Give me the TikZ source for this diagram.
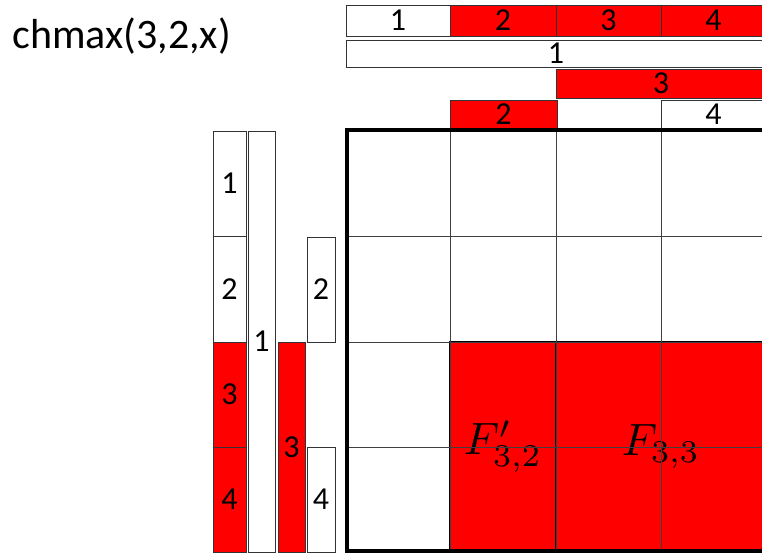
\documentclass[tikz,border=0pt]{standalone}
\usepackage{graphicx}
\usepackage{fontspec}
\setmainfont{Carlito}
\tikzset{
  cell/.style={draw=black!80, line width=0.75pt, inner sep=0pt, font=\fontsize{24}{26}\selectfont},
  hot/.style={fill=red},
  cold/.style={fill=white},
  big/.style={fill=red, draw=black, line width=1.2pt, font=\normalsize},
  gridline/.style={draw=black!75, line width=0.75pt},
  frame/.style={draw=black, line width=2.6pt},
}
\newcommand\cellbox[7]{%
  \node[cell,#6,minimum width={(#4-#2)*0.75pt},minimum height={(#5-#3)*0.75pt}] (#1) at ({(#2+#4)/2},{(#3+#5)/2}) {#7};}
\newcommand\bigmath[1]{\scalebox{3.4}{$#1$}}
\begin{document}
\begin{tikzpicture}[x=0.75pt,y=-0.75pt]
\useasboundingbox (0,0) rectangle (762,554);
\clip (0,0) rectangle (762,554);
% title
\node[anchor=base west, inner sep=0pt, font=\fontsize{31.5}{34}\selectfont] (title) at (12,48) {chmax(3,2,x)};
% top bars
\cellbox{t11}{346}{5}{450}{36}{cold}{1}
\cellbox{t12}{450}{5}{556}{36}{hot}{2}
\cellbox{t13}{556}{5}{661}{36}{hot}{3}
\cellbox{t14}{661}{5}{766}{36}{hot}{4}
\cellbox{t2}{346}{40}{766}{67}{cold}{1}
\cellbox{t3}{556}{69}{766}{98}{hot}{3}
\cellbox{t42}{450}{100}{557}{128}{hot}{2}
\cellbox{t44}{661}{100}{766}{128}{cold}{4}
% left bars
\cellbox{l11}{213}{131}{246}{236}{cold}{1}
\cellbox{l12}{213}{236}{246}{342}{cold}{2}
\cellbox{l13}{213}{342}{246}{447}{hot}{3}
\cellbox{l14}{213}{447}{246}{552}{hot}{4}
\cellbox{l2}{248}{131}{275}{552}{cold}{1}
\cellbox{l3}{278}{342}{305}{552}{hot}{3}
\cellbox{l42}{307}{237}{335}{342}{cold}{2}
\cellbox{l44}{307}{447}{335}{552}{cold}{4}
% red blocks
\cellbox{f32}{450}{342}{556}{551}{big}{\bigmath{F'_{3,2}}}
\cellbox{f33}{556}{342}{766}{551}{big}{\bigmath{F_{3,3}}}
% grid
\draw[gridline] (450,130) -- (450,551);
\draw[gridline] (556,130) -- (556,551);
\draw[gridline] (661,130) -- (661,551);
\draw[gridline] (347,236) -- (766,236);
\draw[gridline] (347,342) -- (766,342);
\draw[gridline] (347,447) -- (766,447);
\draw[frame] (347,130) rectangle (766,551);
\end{tikzpicture}
\end{document}
